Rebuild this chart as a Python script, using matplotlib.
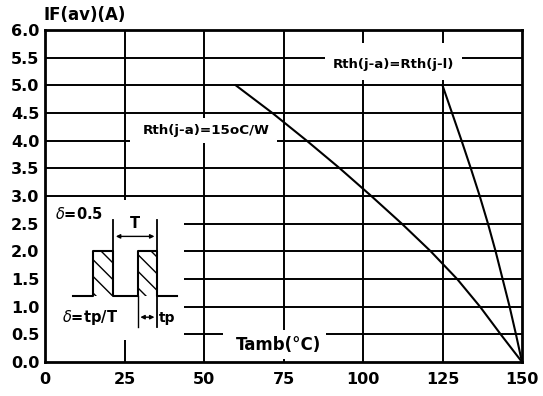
import matplotlib
matplotlib.use('Agg')
import matplotlib.pyplot as plt
from matplotlib.patches import Rectangle

# curve values
tamb_15 = [60, 71.5, 82.3, 92.7, 102.6, 112.2, 121.3, 129.6, 136.8, 143.3, 150]
if_15 = [5.0, 4.5, 4.0, 3.5, 3.0, 2.5, 2.0, 1.5, 1.0, 0.5, 0.0]
tamb_jl = [125, 128.0, 131.0, 133.9, 136.7, 139.3, 141.7, 143.9, 146.1, 148.1, 150]
if_jl = [5.0, 4.5, 4.0, 3.5, 3.0, 2.5, 2.0, 1.5, 1.0, 0.5, 0.0]

x_ticks = [0, 25, 50, 75, 100, 125, 150]
y_ticks = [0.0, 0.5, 1.0, 1.5, 2.0, 2.5, 3.0, 3.5, 4.0, 4.5, 5.0, 5.5, 6.0]

# pulse sketch in the inset (x, y in data units)
pulse_x = [8.8, 15.2, 15.2, 21.4, 21.4, 29.1, 29.1, 35.3, 35.3, 41.6]
pulse_y = [1.19, 1.19, 2.0, 2.0, 1.19, 1.19, 2.0, 2.0, 1.19, 1.19]

font = {'family': 'DejaVu Sans', 'weight': 'bold'}
plt.rcParams['hatch.linewidth'] = 1.0

fig = plt.figure(figsize=(5.43, 3.96), dpi=100)
ax = fig.add_axes([45 / 543, 34 / 396, 477 / 543, 332 / 396])
ax.set_xlim(0, 150)
ax.set_ylim(0, 6)

# grid
for x in x_ticks[1:-1]:
    ax.axvline(x, color='black', lw=1.4, zorder=1)
for y in y_ticks[1:-1]:
    ax.axhline(y, color='black', lw=1.4, zorder=1)

# white gaps behind the labels and the inset
for (x0, y0, w, h) in [(0.3, 0.4, 43.3, 2.53), (26.7, 3.95, 46.1, 0.46),
                       (87.9, 5.1, 43.3, 0.67), (56, 0.05, 32.5, 0.52)]:
    ax.add_patch(Rectangle((x0, y0), w, h, facecolor='white', edgecolor='none', zorder=2))

ax.plot(tamb_15, if_15, color='black', lw=1.5, zorder=3)
ax.plot(tamb_jl, if_jl, color='black', lw=1.5, zorder=3)

# inset sketch
ax.plot(pulse_x, pulse_y, color='black', lw=1.5, zorder=4)
for xa in [15.2, 29.1]:
    ax.add_patch(Rectangle((xa, 1.19), 6.2, 0.81, facecolor='none', edgecolor='black',
                           hatch='\\\\', lw=0, zorder=4))
ax.plot([21.4, 21.4], [2.0, 2.56], color='black', lw=1.3, zorder=4)
ax.plot([35.3, 35.3], [0.64, 2.56], color='black', lw=1.3, zorder=4)
ax.plot([29.1, 29.1], [0.64, 1.19], color='black', lw=1.0, zorder=4)
ax.annotate('', xy=(21.4, 2.27), xytext=(35.3, 2.27),
            arrowprops=dict(arrowstyle='<|-|>', color='black', lw=1.0, mutation_scale=6), zorder=4)
ax.annotate('', xy=(29.1, 0.81), xytext=(35.3, 0.81),
            arrowprops=dict(arrowstyle='<|-|>', color='black', lw=1.0, mutation_scale=6), zorder=4)
ax.text(28.2, 2.5, 'T', ha='center', va='center', fontsize=10.5, zorder=5, **font)
ax.text(35.8, 0.8, 'tp', ha='left', va='center', fontsize=10, zorder=5, **font)
ax.text(3.0, 2.68, '$\\delta$=0.5', ha='left', va='center', fontsize=10.5, zorder=5, **font)
ax.text(5.5, 0.8, '$\\delta$=tp/T', ha='left', va='center', fontsize=10.5, zorder=5, **font)

ax.text(50.8, 4.19, 'Rth(j-a)=15oC/W', ha='center', va='center', fontsize=9.7, zorder=5, **font)
ax.text(109.5, 5.38, 'Rth(j-a)=Rth(j-l)', ha='center', va='center', fontsize=9.5, zorder=5, **font)
ax.text(73.5, 0.3, 'Tamb(°C)', ha='center', va='center', fontsize=12, zorder=5, **font)
ax.text(-0.5, 6.1, 'IF(av)(A)', ha='left', va='bottom', fontsize=12, zorder=5,
        clip_on=False, **font)

ax.set_xticks(x_ticks)
ax.set_yticks(y_ticks)
ax.set_xticklabels([str(v) for v in x_ticks], fontsize=11.5, **font)
ax.set_yticklabels([f'{v:.1f}' for v in y_ticks], fontsize=11.5, **font)
ax.tick_params(axis='both', length=0)
ax.tick_params(axis='x', pad=7)
ax.tick_params(axis='y', pad=4)
for s in ax.spines.values():
    s.set_linewidth(2)
    s.set_zorder(6)

fig.savefig('out.png', dpi=100)
